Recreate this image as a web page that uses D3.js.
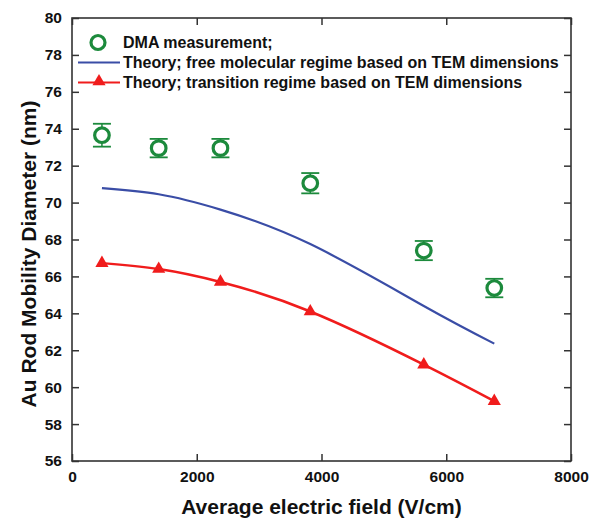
<!DOCTYPE html>
<html>
<head>
<meta charset="utf-8">
<script src="https://cdn.jsdelivr.net/npm/d3@7"></script>
<style>
  html, body { margin: 0; padding: 0; background: #fff; }
  svg { display: block; }
  text { font-family: "Liberation Sans", Arial, sans-serif; font-weight: bold; fill: #111; }
</style>
</head>
<body>
<svg id="chart" width="590" height="519"></svg>
<script>
// Electric field (V/cm) at each measurement
const fieldValues = [480, 1390, 2380, 3820, 5640, 6770];
// DMA measured mobility diameter (nm) and error half-widths
const dmaDiameter = [73.65, 72.95, 72.95, 71.05, 67.4, 65.37];
const dmaError = [0.62, 0.5, 0.5, 0.55, 0.52, 0.5];
// Theory, free molecular regime (TEM dimensions)
const freeMolecular = [70.78, 70.45, 69.62, 67.75, 64.4, 62.36];
// Theory, transition regime (TEM dimensions)
const transition = [66.72, 66.4, 65.7, 64.1, 61.22, 59.24];

const xTicks = [0, 2000, 4000, 6000, 8000];
const yTicks = [56, 58, 60, 62, 64, 66, 68, 70, 72, 74, 76, 78, 80];

const legendLabels = [
  "DMA measurement;",
  "Theory; free molecular regime based on TEM dimensions",
  "Theory; transition regime based on TEM dimensions"
];

const green = "#1c8a3c", blue = "#3a4da6", red = "#f01c1c", axisColor = "#333";

const margin = { left: 72, right: 19, top: 18, bottom: 58 };
const W = 590, H = 519;
const svg = d3.select("#chart");

const x = d3.scaleLinear().domain([0, 8000]).range([margin.left, W - margin.right]);
const y = d3.scaleLinear().domain([56, 80]).range([H - margin.bottom, margin.top]);

const tickLen = 7;
const axisStyle = g => {
  g.select(".domain").remove();
  g.selectAll("line").attr("stroke", axisColor).attr("stroke-width", 1.5);
  g.selectAll("text").style("font-size", "15.5px").attr("fill", "#111");
};

// Bottom axis (ticks pointing inward)
svg.append("g")
  .attr("transform", `translate(0,${y(56)})`)
  .call(d3.axisBottom(x).tickValues(xTicks).tickFormat(d3.format("d")).tickSizeInner(-tickLen).tickSizeOuter(0).tickPadding(10))
  .call(axisStyle);
// Top axis: ticks only
svg.append("g")
  .attr("transform", `translate(0,${y(80)})`)
  .call(d3.axisTop(x).tickValues(xTicks).tickFormat("").tickSizeInner(-tickLen).tickSizeOuter(0))
  .call(axisStyle);
// Left axis
svg.append("g")
  .attr("transform", `translate(${x(0)},0)`)
  .call(d3.axisLeft(y).tickValues(yTicks).tickFormat(d3.format("d")).tickSizeInner(-tickLen).tickSizeOuter(0).tickPadding(10))
  .call(axisStyle);
// Right axis: ticks only
svg.append("g")
  .attr("transform", `translate(${x(8000)},0)`)
  .call(d3.axisRight(y).tickValues(yTicks).tickFormat("").tickSizeInner(-tickLen).tickSizeOuter(0))
  .call(axisStyle);

// Frame
svg.append("rect")
  .attr("x", x(0)).attr("y", y(80))
  .attr("width", x(8000) - x(0)).attr("height", y(56) - y(80))
  .attr("fill", "none").attr("stroke", axisColor).attr("stroke-width", 1.6);

// Axis titles
svg.append("text")
  .attr("x", (x(0) + x(8000)) / 2).attr("y", 514)
  .attr("text-anchor", "middle").style("font-size", "21px")
  .text("Average electric field (V/cm)");
svg.append("text")
  .attr("transform", `translate(36,254) rotate(-90)`)
  .attr("text-anchor", "middle").style("font-size", "21px")
  .text("Au Rod Mobility Diameter (nm)");

const line = d3.line().curve(d3.curveNatural);

// Free molecular theory curve
svg.append("path")
  .attr("d", line(fieldValues.map((f, i) => [x(f), y(freeMolecular[i])])))
  .attr("fill", "none").attr("stroke", blue).attr("stroke-width", 2.2);

// Transition regime curve with triangle markers
svg.append("path")
  .attr("d", line(fieldValues.map((f, i) => [x(f), y(transition[i])])))
  .attr("fill", "none").attr("stroke", red).attr("stroke-width", 2.5);

const tri = d3.symbol().type(d3.symbolTriangle).size(75);
svg.append("g").selectAll("path")
  .data(fieldValues)
  .join("path")
  .attr("transform", (f, i) => `translate(${x(f)},${y(transition[i])})`)
  .attr("d", tri)
  .attr("fill", red);

// DMA measurements with error bars
const dma = svg.append("g").selectAll("g")
  .data(fieldValues)
  .join("g")
  .attr("transform", f => `translate(${x(f)},0)`);
dma.append("line")
  .attr("y1", (f, i) => y(dmaDiameter[i] + dmaError[i]))
  .attr("y2", (f, i) => y(dmaDiameter[i] - dmaError[i]))
  .attr("stroke", green).attr("stroke-width", 1.5);
[1, -1].forEach(s => {
  dma.append("line")
    .attr("x1", -9).attr("x2", 9)
    .attr("y1", (f, i) => y(dmaDiameter[i] + s * dmaError[i]))
    .attr("y2", (f, i) => y(dmaDiameter[i] + s * dmaError[i]))
    .attr("stroke", green).attr("stroke-width", 1.8);
});
dma.append("circle")
  .attr("cy", (f, i) => y(dmaDiameter[i]))
  .attr("r", 7.3)
  .attr("fill", "#fff").attr("stroke", green).attr("stroke-width", 3.2);

// Legend
const lg = svg.append("g");
const lx0 = 78, lx1 = 120, ly = [42.5, 62.5, 82.5];
lg.append("circle").attr("cx", (lx0 + lx1) / 2 - 1).attr("cy", ly[0]).attr("r", 7)
  .attr("fill", "#fff").attr("stroke", green).attr("stroke-width", 3.2);
lg.append("line").attr("x1", lx0).attr("x2", lx1).attr("y1", ly[1]).attr("y2", ly[1])
  .attr("stroke", blue).attr("stroke-width", 2.2);
lg.append("line").attr("x1", lx0).attr("x2", lx1).attr("y1", ly[2]).attr("y2", ly[2])
  .attr("stroke", red).attr("stroke-width", 2.2);
lg.append("path").attr("transform", `translate(${(lx0 + lx1) / 2},${ly[2] - 1})`)
  .attr("d", tri).attr("fill", red);
lg.selectAll("text")
  .data(legendLabels)
  .join("text")
  .attr("x", 123).attr("y", (d, i) => ly[i])
  .attr("dy", "0.36em")
  .style("font-size", "16px")
  .text(d => d);
</script>
</body>
</html>
